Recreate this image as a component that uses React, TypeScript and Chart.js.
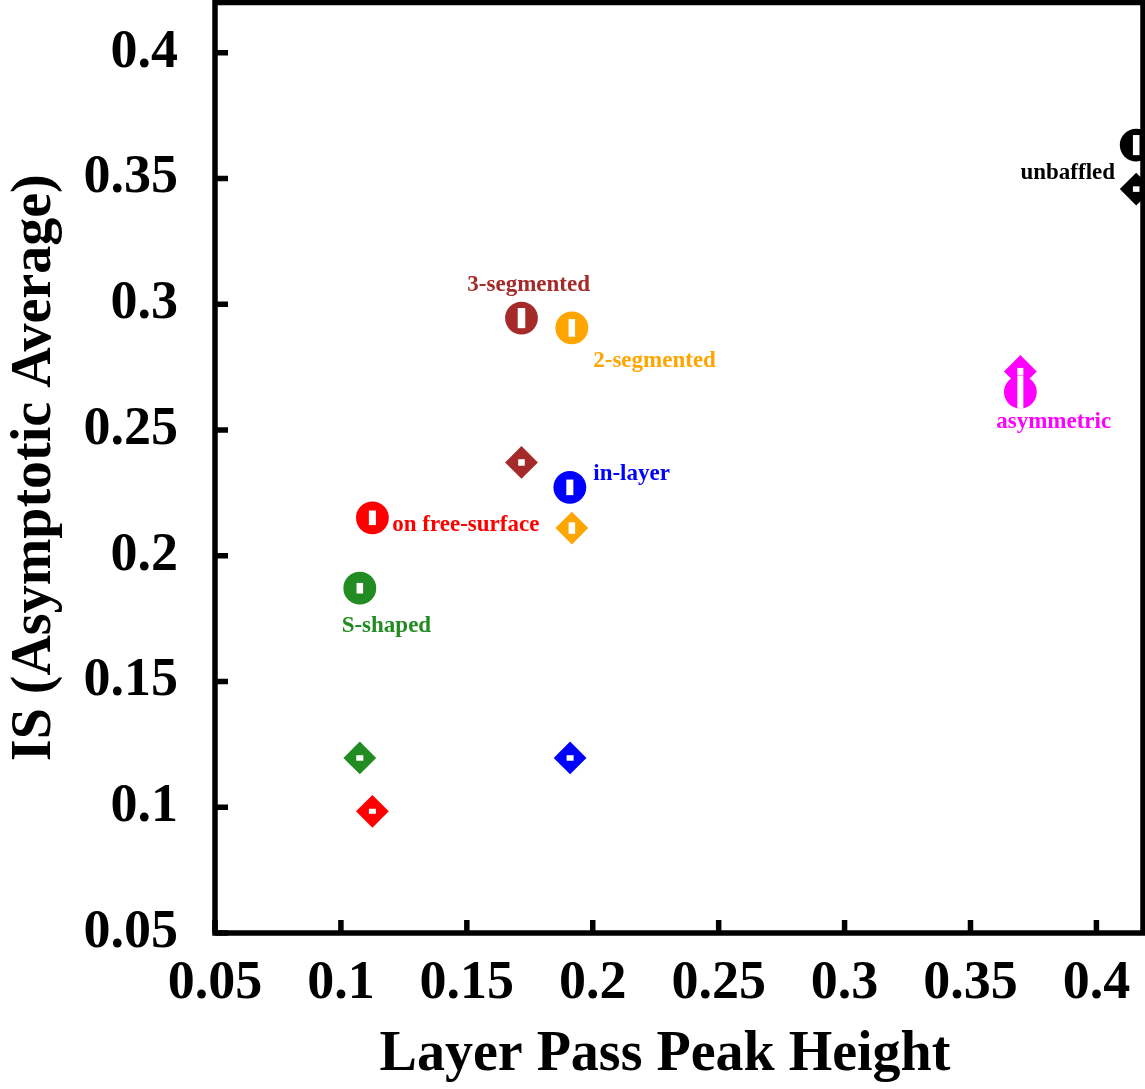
import React, { useEffect, useRef } from 'react';
import { Chart, registerables } from 'chart.js';

Chart.register(...registerables);

const categories = ['unbaffled', 'asymmetric', '3-segmented', '2-segmented', 'in-layer', 'on free-surface', 'S-shaped'];
const colors = ['#000000', '#FF00FF', '#A52A2A', '#FFA500', '#0000FF', '#FF0000', '#228B22'];

const circleX = [0.4158, 0.3698, 0.1717, 0.1917, 0.1909, 0.1125, 0.1075];
const circleY = [0.3633, 0.2651, 0.2945, 0.2906, 0.2272, 0.2151, 0.1871];
const circleXErr = [0.0013, 0.0012, 0.0015, 0.0013, 0.0014, 0.0014, 0.0013];
const circleYErr = [0.004, 0.0066, 0.004, 0.0035, 0.0031, 0.0029, 0.0021];

const diamondX = [0.4158, 0.3698, 0.1717, 0.1917, 0.191, 0.1125, 0.1075];
const diamondY = [0.3458, 0.2733, 0.2371, 0.211, 0.1196, 0.0984, 0.1196];
const diamondXErr = [0.0013, 0.0012, 0.0013, 0.0013, 0.0014, 0.0014, 0.0014];
const diamondYErr = [0.0011, 0.0014, 0.0013, 0.0023, 0.0011, 0.001, 0.0011];

const labelX = [0.4074, 0.3602, 0.1502, 0.2002, 0.2002, 0.1204, 0.1003];
const labelY = [0.3497, 0.2507, 0.3054, 0.2752, 0.2301, 0.21, 0.1698];
const labelAlign = ['right', 'left', 'left', 'left', 'left', 'left', 'left'];

const xTicks = [0.05, 0.1, 0.15, 0.2, 0.25, 0.3, 0.35, 0.4];
const xTickLabels = ['0.05', '0.1', '0.15', '0.2', '0.25', '0.3', '0.35', '0.4'];
const yTicks = [0.05, 0.1, 0.15, 0.2, 0.25, 0.3, 0.35, 0.4];
const yTickLabels = ['0.05', '0.1', '0.15', '0.2', '0.25', '0.3', '0.35', '0.4'];

const xTitle = 'Layer Pass Peak Height';
const yTitle = 'IS (Asymptotic Average)';

const FAMILY = "'Liberation Serif', 'Times New Roman', serif";

const labelFor = (ticks: number[], labels: string[], v: number) => {
  let best = 0;
  ticks.forEach((t, i) => {
    if (Math.abs(t - v) < Math.abs(ticks[best] - v)) best = i;
  });
  return labels[best];
};

const zeroPad = (s: any) => {
  s.paddingTop = 0;
  s.paddingBottom = 0;
  s.paddingLeft = 0;
  s.paddingRight = 0;
};

const overlay = {
  id: 'overlay',
  afterDatasetsDraw(chart: any) {
    const { ctx, scales } = chart;
    const x = scales.x;
    const y = scales.y;
    ctx.save();
    ctx.fillStyle = '#ffffff';
    const box = (cx: number, cy: number, ex: number, ey: number) => {
      const l = x.getPixelForValue(cx - ex);
      const r = x.getPixelForValue(cx + ex);
      const t = y.getPixelForValue(cy + ey);
      const b = y.getPixelForValue(cy - ey);
      ctx.fillRect(l, t, r - l, b - t);
    };
    categories.forEach((_, i) => {
      box(diamondX[i], diamondY[i], diamondXErr[i], diamondYErr[i]);
      box(circleX[i], circleY[i], circleXErr[i], circleYErr[i]);
    });
    ctx.font = `bold 23px ${FAMILY}`;
    ctx.textBaseline = 'alphabetic';
    categories.forEach((c, i) => {
      ctx.fillStyle = colors[i];
      ctx.textAlign = labelAlign[i];
      ctx.fillText(c, x.getPixelForValue(labelX[i]), y.getPixelForValue(labelY[i]));
    });
    ctx.restore();
  },
  afterDraw(chart: any) {
    const { ctx, chartArea: a, scales } = chart;
    const x = scales.x;
    const y = scales.y;
    ctx.save();
    ctx.strokeStyle = '#000000';
    ctx.lineWidth = 5.5;
    ctx.strokeRect(a.left, a.top, a.right - a.left, a.bottom - a.top);
    ctx.beginPath();
    xTicks.forEach((v) => {
      const px = x.getPixelForValue(v);
      ctx.moveTo(px, a.bottom);
      ctx.lineTo(px, a.bottom - 13);
    });
    yTicks.forEach((v) => {
      const py = y.getPixelForValue(v);
      ctx.moveTo(a.left, py);
      ctx.lineTo(a.left + 13, py);
    });
    ctx.stroke();
    // x-axis title (slightly left of the plot centre, as in the reference)
    ctx.fillStyle = '#000000';
    ctx.font = `bold 56px ${FAMILY}`;
    ctx.textAlign = 'center';
    ctx.textBaseline = 'middle';
    ctx.fillText(xTitle, (a.left + a.right) / 2 - 14, chart.height - 33);
    ctx.restore();
  },
};

export default function App() {
  const ref = useRef<HTMLCanvasElement | null>(null);

  useEffect(() => {
    if (!ref.current) return;
    const chart = new Chart(ref.current, {
      type: 'scatter',
      data: {
        datasets: [
          {
            label: 'circles',
            data: circleX.map((v, i) => ({ x: v, y: circleY[i] })),
            pointStyle: 'circle',
            pointRadius: 16.4,
            pointBackgroundColor: colors,
            pointBorderColor: colors,
            pointBorderWidth: 0,
            showLine: false,
          },
          {
            label: 'diamonds',
            data: diamondX.map((v, i) => ({ x: v, y: diamondY[i] })),
            pointStyle: 'rectRot',
            pointRadius: 16.4,
            pointBackgroundColor: colors,
            pointBorderColor: colors,
            pointBorderWidth: 0,
            showLine: false,
          },
        ],
      },
      options: {
        responsive: false,
        animation: false,
        events: [],
        layout: { autoPadding: false, padding: { top: 2.5, right: 2, left: 0, bottom: 0 } },
        plugins: { legend: { display: false }, tooltip: { enabled: false } },
        scales: {
          x: {
            type: 'linear',
            min: 0.05,
            max: 0.4185,
            afterBuildTicks: (s: any) => {
              s.ticks = xTicks.map((v) => ({ value: v }));
            },
            afterFit: (s: any) => {
              s.height = 156;
              zeroPad(s);
            },
            grid: { display: false, drawTicks: false, tickLength: 0 },
            border: { display: false },
            ticks: {
              padding: 19,
              color: '#000000',
              font: { family: FAMILY, weight: 'bold', size: 54 },
              maxRotation: 0,
              autoSkip: false,
              callback: (v: any) => labelFor(xTicks, xTickLabels, Number(v)),
            },
            title: { display: false },
          },
          y: {
            type: 'linear',
            min: 0.05,
            max: 0.42,
            afterBuildTicks: (s: any) => {
              s.ticks = yTicks.map((v) => ({ value: v }));
            },
            afterFit: (s: any) => {
              s.width = 215;
              zeroPad(s);
            },
            grid: { display: false, drawTicks: false, tickLength: 0 },
            border: { display: false },
            ticks: {
              padding: 37,
              color: '#000000',
              font: { family: FAMILY, weight: 'bold', size: 54 },
              autoSkip: false,
              callback: (v: any) => labelFor(yTicks, yTickLabels, Number(v)),
            },
            title: {
              display: true,
              text: yTitle,
              color: '#000000',
              padding: { top: 2, bottom: 0 },
              font: { family: FAMILY, weight: 'bold', size: 56 },
            },
          },
        },
      },
      plugins: [overlay],
    } as any);
    return () => chart.destroy();
  }, []);

  return (
    <div style={{ position: 'fixed', left: 0, top: 0, width: 1145, height: 1089, background: '#ffffff' }}>
      <canvas ref={ref} width={1145} height={1089} style={{ width: 1145, height: 1089, display: 'block' }} />
    </div>
  );
}
